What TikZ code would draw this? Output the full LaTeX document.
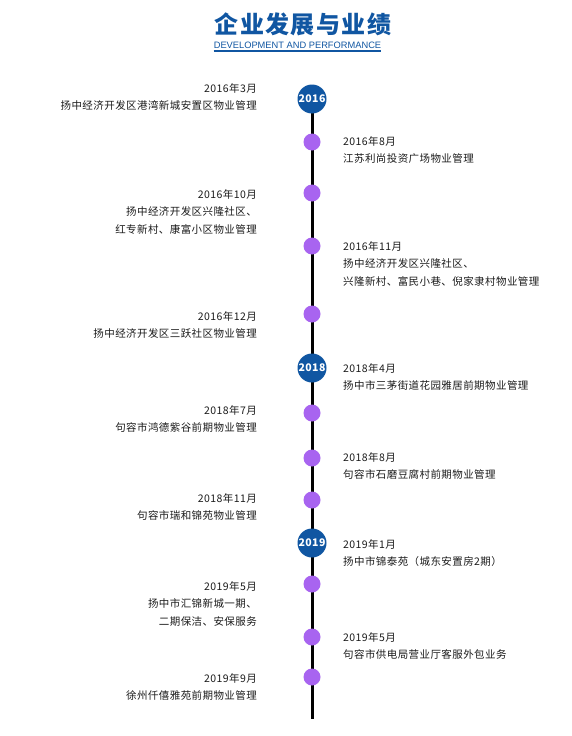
\documentclass[tikz,border=0pt]{standalone}
\usepackage{fontspec}
\setmainfont[LetterSpace=4]{Noto Sans CJK SC}
\newfontfamily\titlefont[LetterSpace=6]{Noto Sans CJK SC}
\newfontfamily\enfont{Liberation Sans}
\usetikzlibrary{positioning}
\definecolor{tlblue}{RGB}{16,86,162}
\definecolor{tlpurple}{RGB}{168,100,240}
\definecolor{tltext}{RGB}{28,28,28}

\begin{document}
\begin{tikzpicture}[
    x=1pt, y=-1pt,
    font=\fontsize{10.5}{17.5}\selectfont,
    lentry/.style={anchor=north east, align=right, inner sep=0pt, text=tltext},
    rentry/.style={anchor=north west, align=left, inner sep=0pt, text=tltext},
    yearbox/.style={circle, fill=tlblue, minimum size=29pt, inner sep=0pt, text=white,
        font=\fontsize{10.5}{12}\selectfont\bfseries},
    evdot/.style={circle, fill=tlpurple, minimum size=17pt, inner sep=0pt},
    spine/.style={line width=3pt, black},
]
\fill[white] (0,0) rectangle (571,736);
\useasboundingbox (0,0) rectangle (571,736);

% ---- heading ----
\node[text=tlblue, font={\titlefont\fontsize{24}{28}\selectfont\bfseries}] (title) at (303,24) {企业发展与业绩};
\node[text=tlblue, inner sep=0pt, font={\enfont\fontsize{9.3}{11}\selectfont}] (subtitle) at (297.5,45)
    {DEVELOPMENT AND PERFORMANCE};
\draw[tlblue, line width=2pt] ([yshift=-3pt]subtitle.south west) -- ([yshift=-3pt]subtitle.south east);

% ---- spine ----
\coordinate (tltop) at (312,99);
\coordinate (tlend) at (312,719);
\draw[spine] (tltop) -- (tlend);

% ---- year marks and event dots ----
\node[yearbox] (y2016) at (312,99) {2016};
\node[yearbox] (y2018) at (312,368) {2018};
\node[yearbox] (y2019) at (312,543) {2019};

\node[evdot] (d1608) at (312,142) {};
\node[evdot] (d1610) at (312,193) {};
\node[evdot] (d1611) at (312,246) {};
\node[evdot] (d1612) at (312,314) {};
\node[evdot] (d1807) at (312,413) {};
\node[evdot] (d1808) at (312,458) {};
\node[evdot] (d1811) at (312,500) {};
\node[evdot] (d1905a) at (312,584) {};
\node[evdot] (d1905b) at (312,637) {};
\node[evdot] (d1909) at (312,677) {};

% ---- left side ----
\node[lentry] (e1603) at (257,83.3) {2016年3月\\扬中经济开发区港湾新城安置区物业管理};
\node[lentry] (e1610) at (257,189.3) {2016年10月\\扬中经济开发区兴隆社区、\\红专新村、康富小区物业管理};
\node[lentry] (e1612) at (257,311.3) {2016年12月\\扬中经济开发区三跃社区物业管理};
\node[lentry] (e1807) at (257,405.3) {2018年7月\\句容市鸿德紫谷前期物业管理};
\node[lentry] (e1811) at (257,493.3) {2018年11月\\句容市瑞和锦苑物业管理};
\node[lentry] (e1905a) at (257,581.3) {2019年5月\\扬中市汇锦新城一期、\\二期保洁、安保服务};
\node[lentry] (e1909) at (257,673.3) {2019年9月\\徐州仟僖雅苑前期物业管理};

% ---- right side ----
\node[rentry] (e1608) at (343,136.3) {2016年8月\\江苏利尚投资广场物业管理};
\node[rentry] (e1611) at (343,241.3) {2016年11月\\扬中经济开发区兴隆社区、\\兴隆新村、富民小巷、倪家隶村物业管理};
\node[rentry] (e1804) at (343,363.3) {2018年4月\\扬中市三茅街道花园雅居前期物业管理};
\node[rentry] (e1808) at (343,452.3) {2018年8月\\句容市石磨豆腐村前期物业管理};
\node[rentry] (e1901) at (343,539.3) {2019年1月\\扬中市锦泰苑（城东安置房2期）};
\node[rentry] (e1905b) at (343,632.3) {2019年5月\\句容市供电局营业厅客服外包业务};
\end{tikzpicture}
\end{document}
